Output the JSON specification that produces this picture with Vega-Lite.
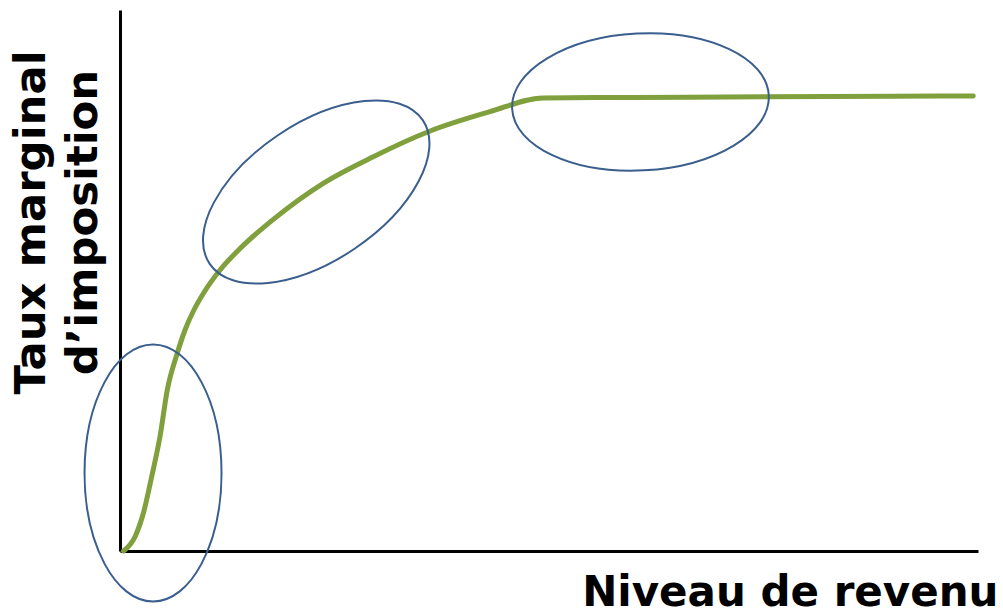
{
  "$schema": "https://vega.github.io/schema/vega-lite/v6.json",
  "autosize": "none",
  "width": 858,
  "height": 541,
  "padding": {"left": 120, "top": 10, "right": 25, "bottom": 60},
  "background": "white",
  "config": {"view": {"stroke": null}},
  "datasets": {
    "courbe": [
      {"revenu": 0.4, "taux": 0},
      {"revenu": 1.75, "taux": 2.64},
      {"revenu": 2.72, "taux": 6.97},
      {"revenu": 3.69, "taux": 13.73},
      {"revenu": 4.66, "taux": 21.13},
      {"revenu": 5.51, "taux": 29.76},
      {"revenu": 6.61, "taux": 36.23},
      {"revenu": 7.58, "taux": 40.85},
      {"revenu": 8.6, "taux": 44.5},
      {"revenu": 9.71, "taux": 47.6},
      {"revenu": 11.66, "taux": 51.94},
      {"revenu": 13.99, "taux": 55.9},
      {"revenu": 17.87, "taux": 61.3},
      {"revenu": 23.69, "taux": 67.97},
      {"revenu": 29.52, "taux": 72.88},
      {"revenu": 35.93, "taux": 77.5},
      {"revenu": 43.12, "taux": 81.2},
      {"revenu": 49.34, "taux": 83.75},
      {"revenu": 60.0, "taux": 83.83},
      {"revenu": 75.0, "taux": 83.95},
      {"revenu": 90.0, "taux": 84.05},
      {"revenu": 99.45, "taux": 84.12}
    ],
    "zones": [
      {"zone": "bas", "revenu": 3.85, "taux": 14.42},
      {"zone": "milieu", "revenu": 22.87, "taux": 66.36},
      {"zone": "haut", "revenu": 60.66, "taux": 83.0}
    ]
  },
  "encoding": {
    "x": {
      "field": "revenu", "type": "quantitative",
      "scale": {"domain": [0, 100], "nice": false, "zero": false},
      "axis": {
        "title": "Niveau de revenu",
        "domain": true, "domainColor": "#000000", "domainWidth": 3,
        "ticks": false, "labels": false, "grid": false,
        "titleFont": "DejaVu Sans", "titleFontSize": 42, "titleFontWeight": "bold",
        "titleColor": "#000000",
        "titleAlign": "right", "titleAnchor": null, "titleBaseline": "alphabetic",
        "titleX": 878, "titleY": 54
      }
    },
    "y": {
      "field": "taux", "type": "quantitative",
      "scale": {"domain": [0, 100], "nice": false, "zero": false},
      "axis": {
        "title": ["Taux marginal", "d’imposition"],
        "domain": true, "domainColor": "#000000", "domainWidth": 3,
        "ticks": false, "labels": false, "grid": false,
        "titleFont": "DejaVu Sans", "titleFontSize": 43.4, "titleFontWeight": "bold",
        "titleColor": "#000000", "titleLineHeight": 52,
        "titleAngle": 270, "titleAlign": "center", "titleAnchor": null,
        "titleBaseline": "alphabetic",
        "titleX": -75.5, "titleY": 212
      }
    }
  },
  "layer": [
    {
      "data": {"name": "courbe"},
      "mark": {"type": "line", "color": "#7fa03c", "strokeWidth": 5, "interpolate": "monotone", "strokeCap": "round", "strokeJoin": "round"}
    },
    {
      "data": {"name": "zones"},
      "transform": [{"filter": "datum.zone === 'bas'"}],
      "mark": {"type": "point", "filled": false, "stroke": "#3a5e8d", "strokeWidth": 2, "opacity": 1,
        "shape": "M-1,0A1,0.533,0,1,1,1,0A1,0.533,0,1,1,-1,0Z", "size": 66049, "angle": 90}
    },
    {
      "data": {"name": "zones"},
      "transform": [{"filter": "datum.zone === 'milieu'"}],
      "mark": {"type": "point", "filled": false, "stroke": "#3a5e8d", "strokeWidth": 2, "opacity": 1,
        "shape": "M-1,0A1,0.533,0,1,1,1,0A1,0.533,0,1,1,-1,0Z", "size": 66049, "angle": -34}
    },
    {
      "data": {"name": "zones"},
      "transform": [{"filter": "datum.zone === 'haut'"}],
      "mark": {"type": "point", "filled": false, "stroke": "#3a5e8d", "strokeWidth": 2, "opacity": 1,
        "shape": "M-1,0A1,0.533,0,1,1,1,0A1,0.533,0,1,1,-1,0Z", "size": 66049, "angle": -3}
    }
  ]
}
